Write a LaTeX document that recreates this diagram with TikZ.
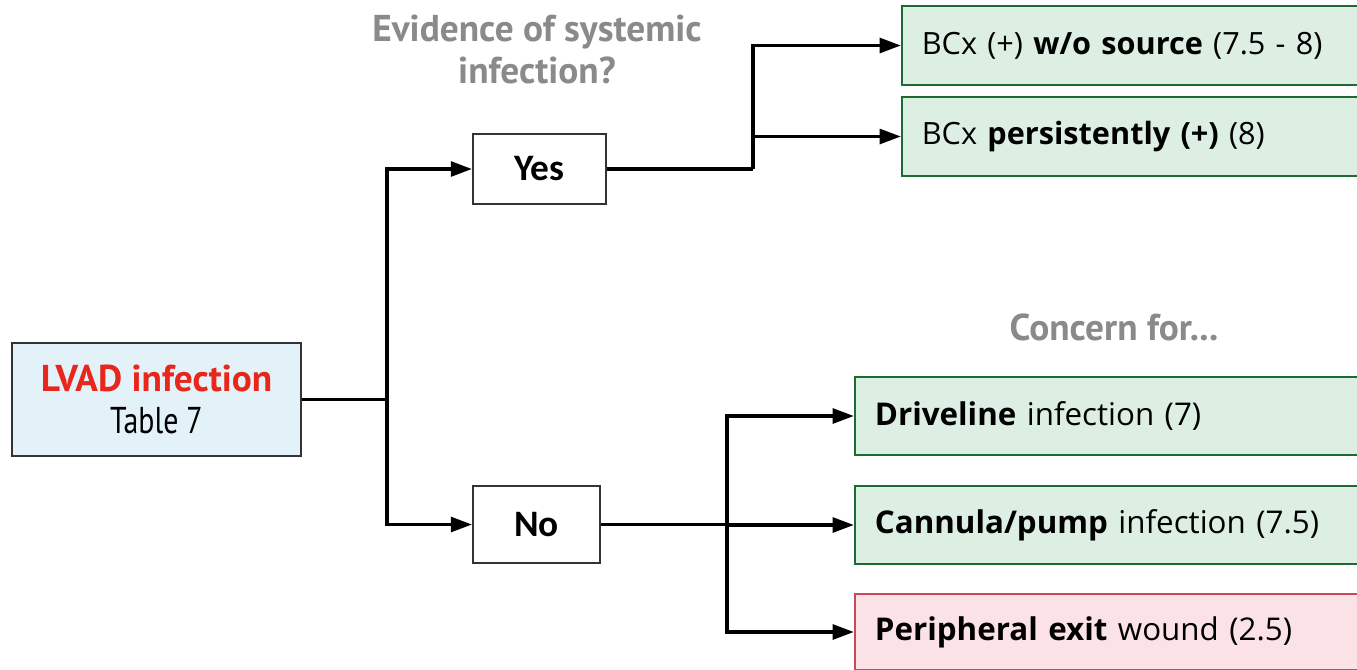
\documentclass[tikz,border=0pt]{standalone}
\usepackage{fontspec}
\setmainfont{Open Sans}
\newfontfamily\ptsans{PT Sans}
\newfontfamily\ptnarrow[FakeStretch=0.8]{PT Sans}
\newfontfamily\carlito{Carlito}
\usetikzlibrary{arrows.meta,positioning}
\definecolor{boxblue}{HTML}{E3F2F9}
\definecolor{boxgreen}{HTML}{DCEFE2}
\definecolor{edgegreen}{HTML}{1E6B32}
\definecolor{boxpink}{HTML}{FAE2E6}
\definecolor{edgepink}{HTML}{C9485B}
\definecolor{qgray}{HTML}{8A8A8A}
\definecolor{lvadred}{HTML}{E8261B}

\begin{document}
\begin{tikzpicture}[x=0.75pt, y=-0.75pt,
    root/.style={draw=black!80, line width=1.3pt, fill=boxblue, minimum width=216.75pt, minimum height=84.75pt, align=center, inner sep=0pt, font=\fontsize{28}{32}\selectfont},
    ans/.style={draw=black!80, line width=1.3pt, fill=white, inner sep=0pt, font=\carlito\bfseries\fontsize{28}{32}\selectfont},
    good/.style={draw=edgegreen, line width=1.3pt, fill=boxgreen, anchor=west, minimum width=390pt, text width=360pt, align=left, inner xsep=15pt, font=\fontsize{23.5}{28}\selectfont},
    bad/.style={good, draw=edgepink, fill=boxpink},
    quest/.style={text=qgray, align=center, font=\ptsans\bfseries\fontsize{28}{31.5}\selectfont},
    arr/.style={-{Triangle[length=16pt, width=11pt]}, line width=2.8pt},
    ln/.style={line width=2.8pt}
]
\useasboundingbox (0,0) rectangle (1357,669);

\node[root] (lvad) at (156.5,399.5) {{\ptsans\bfseries\color{lvadred}LVAD infection}\\{\ptnarrow Table 7}};
\node[ans, minimum width=99.75pt, minimum height=52.5pt] (yes) at (539.5,169) {Yes};
\node[ans, minimum width=95.25pt, minimum height=57.75pt] (no) at (536.5,524.5) {No};

\node[quest] (evid) at (537,49) {Evidence of systemic\\infection?};
\node[quest] (concern) at (1114,327) {Concern for...};

\node[good, minimum height=59.25pt, font=\fontsize{23}{28}\selectfont] (bcsrc) at (901,45.5) {BCx (+) \textbf{w/o source} (7.5 - 8)};
\node[good, minimum height=59.25pt, font=\fontsize{23}{28}\selectfont] (bcpers) at (901,136.5) {BCx \textbf{persistently (+)} (8)};
\node[good, minimum height=58.5pt] (drive) at (854,416) {\textbf{Driveline} infection (7)};
\node[good, minimum height=58.5pt] (cann) at (854,525) {\textbf{Cannula/pump} infection (7.5)};
\node[bad, minimum height=57pt] (exitw) at (854,632) {\textbf{Peripheral exit} wound (2.5)};

\coordinate (sroot) at (387,399.5);
\coordinate (syes) at (753,169);
\coordinate (sno) at (727,524.5);

\draw[ln] (lvad) -- (sroot);
\draw[arr] (sroot) |- (yes);
\draw[arr] (sroot) |- (no);
\draw[ln] (yes) -- (syes);
\draw[arr] (syes) |- (bcsrc);
\draw[arr] (syes) |- (bcpers);
\draw[ln] (no) -- (sno);
\draw[arr] (sno) |- (drive);
\draw[arr] (sno) |- (cann);
\draw[arr] (sno) |- (exitw);
\end{tikzpicture}
\end{document}
